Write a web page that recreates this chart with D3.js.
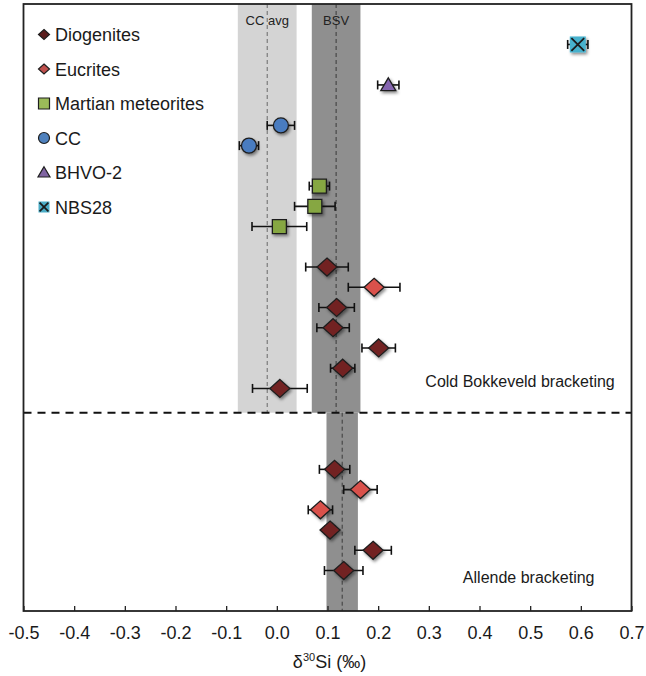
<!DOCTYPE html>
<html>
<head>
<meta charset="utf-8">
<script src="https://cdn.jsdelivr.net/npm/d3@7"></script>
<style>
  html, body { margin: 0; padding: 0; background: #fff; }
  svg { display: block; font-family: "Liberation Sans", Arial, Helvetica, sans-serif; }
</style>
</head>
<body>
<svg id="chart" width="646" height="676"></svg>
<script>
// δ30Si of achondrites and standards, bracketed against two reference materials
const xTickValues = [-0.5, -0.4, -0.3, -0.2, -0.1, 0.0, 0.1, 0.2, 0.3, 0.4, 0.5, 0.6, 0.7];
const legendTypes = ["Diogenites", "Eucrites", "Martian meteorites", "CC", "BHVO-2", "NBS28"];

// one entry per measurement, listed top to bottom (slot = row order)
const sampleSlot  = [2, 4, 6, 7, 9, 10, 11, 13, 14, 15, 16, 17, 18, 19, 23, 24, 25, 26, 27, 28];
const sampleType  = ["NBS28", "BHVO-2", "CC", "CC", "Martian meteorites", "Martian meteorites", "Martian meteorites",
                     "Diogenites", "Eucrites", "Diogenites", "Diogenites", "Diogenites", "Diogenites", "Diogenites",
                     "Diogenites", "Eucrites", "Eucrites", "Diogenites", "Diogenites", "Diogenites"];
const sampleValue = [0.594, 0.220, 0.008, -0.055, 0.084, 0.075, 0.005,
                     0.099, 0.192, 0.118, 0.111, 0.201, 0.130, 0.006,
                     0.114, 0.165, 0.086, 0.105, 0.190, 0.132];
const sampleError = [0.020, 0.021, 0.027, 0.019, 0.020, 0.040, 0.054,
                     0.042, 0.051, 0.035, 0.032, 0.033, 0.024, 0.054,
                     0.030, 0.033, 0.024, 0.010, 0.036, 0.038];

// reference averages with their uncertainty envelopes
const bandLabel = ["CC avg", "BSV", ""];
const bandMean  = [-0.019, 0.117, 0.129];
const bandHalf  = [0.058, 0.048, 0.031];
const bandFrom  = [0, 0, 20.2];
const bandTo    = [20.2, 20.2, 30];

const sectionBreak = 20.2;
const sectionLabel = ["Cold Bokkeveld bracketing", "Allende bracketing"];
const sectionLabelX = [0.667, 0.627];
const sectionLabelSlot = [18.95, 28.6];

const fillOf = {
  "Diogenites": "#722424",
  "Eucrites": "#d9514c",
  "Martian meteorites": "#86a743",
  "CC": "#4a7cc0",
  "BHVO-2": "#8565b0",
  "NBS28": "#46b1cd"
};
const legendFill = {
  "Diogenites": "#5a1c1c",
  "Eucrites": "#c0504d",
  "Martian meteorites": "#9bbb59",
  "CC": "#4f81bd",
  "BHVO-2": "#8064a2",
  "NBS28": "#4bacc6"
};
const shapeOf = {
  "Diogenites": "diamond", "Eucrites": "diamond", "Martian meteorites": "square",
  "CC": "circle", "BHVO-2": "triangle", "NBS28": "cross"
};

const svg = d3.select("#chart");
const plotLeft = 23.5, plotRight = 631.5, plotTop = 4, plotBottom = 611;

const x = d3.scaleLinear().domain([-0.5, 0.7]).range([plotLeft, plotRight]);
const y = d3.scaleLinear().domain([0, 30]).range([plotTop, plotBottom]);

const defs = svg.append("defs");
const shadow = defs.append("filter").attr("id", "shadow")
  .attr("x", "-50%").attr("y", "-50%").attr("width", "200%").attr("height", "200%");
shadow.append("feDropShadow").attr("dx", 1.5).attr("dy", 2).attr("stdDeviation", 1.4)
  .attr("flood-color", "#000").attr("flood-opacity", 0.45);

// marker outlines centred on the origin
function shapePath(shape, s) {
  switch (shape) {
    case "diamond": return `M0,${-s * 0.9}L${s},0L0,${s * 0.9}L${-s},0Z`;
    case "square":
    case "cross": return `M${-s},${-s}H${s}V${s}H${-s}Z`;
    case "triangle": return `M0,${-s * 0.95}L${s},${s * 0.75}L${-s},${s * 0.75}Z`;
    default: return null;
  }
}
function drawMarker(g, type, size, fill, strokeW) {
  const shape = shapeOf[type];
  if (shape === "circle") {
    g.append("circle").attr("r", size).attr("fill", fill)
      .attr("stroke", "#1e1e1e").attr("stroke-width", strokeW);
  } else if (shape === "cross") {
    // filled square without outline, crossed by a dark X
    g.append("path").attr("d", shapePath(shape, size)).attr("fill", fill);
    const c = size * 0.8;
    g.append("path").attr("d", `M${-c},${-c}L${c},${c}M${-c},${c}L${c},${-c}`)
      .attr("stroke", "#1a1a1a").attr("stroke-width", strokeW + 0.5);
  } else {
    g.append("path").attr("d", shapePath(shape, size)).attr("fill", fill)
      .attr("stroke", "#1e1e1e").attr("stroke-width", strokeW).attr("stroke-linejoin", "miter");
  }
}

// shaded reference bands
bandMean.forEach((m, i) => {
  svg.append("rect")
    .attr("x", x(m - bandHalf[i]))
    .attr("y", y(bandFrom[i]))
    .attr("width", x(m + bandHalf[i]) - x(m - bandHalf[i]))
    .attr("height", y(bandTo[i]) - y(bandFrom[i]))
    .attr("fill", i === 0 ? "#d4d4d4" : "#8f8f8f");
});
bandMean.forEach((m, i) => {
  svg.append("line")
    .attr("x1", x(m)).attr("x2", x(m))
    .attr("y1", y(bandFrom[i])).attr("y2", y(bandTo[i]))
    .attr("stroke", i === 0 ? "#6a6a6a" : "#3a3a3a")
    .attr("stroke-width", 1)
    .attr("stroke-dasharray", "4,3");
  if (bandLabel[i]) {
    svg.append("text")
      .attr("x", x(m)).attr("y", 25)
      .attr("text-anchor", "middle")
      .attr("font-size", 13).attr("fill", "#222")
      .text(bandLabel[i]);
  }
});

// separator between the two bracketing standards
svg.append("line")
  .attr("x1", plotLeft).attr("x2", plotRight)
  .attr("y1", y(sectionBreak)).attr("y2", y(sectionBreak))
  .attr("stroke", "#111").attr("stroke-width", 2)
  .attr("stroke-dasharray", "8,6");

sectionLabel.forEach((t, i) => {
  svg.append("text")
    .attr("x", x(sectionLabelX[i])).attr("y", y(sectionLabelSlot[i]))
    .attr("text-anchor", "end")
    .attr("font-size", 16).attr("fill", "#1a1a1a")
    .text(t);
});

// error bars then markers
const samples = sampleValue.map((v, i) => ({ v, e: sampleError[i], slot: sampleSlot[i], type: sampleType[i] }));

const errG = svg.append("g").attr("stroke", "#111").attr("stroke-width", 1.6).attr("fill", "none");
samples.forEach(d => {
  const yy = y(d.slot);
  errG.append("line").attr("x1", x(d.v - d.e)).attr("x2", x(d.v + d.e)).attr("y1", yy).attr("y2", yy);
  errG.append("line").attr("x1", x(d.v - d.e)).attr("x2", x(d.v - d.e)).attr("y1", yy - 4.5).attr("y2", yy + 4.5);
  errG.append("line").attr("x1", x(d.v + d.e)).attr("x2", x(d.v + d.e)).attr("y1", yy - 4.5).attr("y2", yy + 4.5);
});

const sizeOf = { diamond: 10, square: 7, circle: 7.5, triangle: 7.5, cross: 8 };
samples.forEach(d => {
  const g = svg.append("g")
    .attr("transform", `translate(${x(d.v)},${y(d.slot)})`)
    .attr("filter", "url(#shadow)");
  drawMarker(g, d.type, sizeOf[shapeOf[d.type]], fillOf[d.type], 1.3);
});

// legend
const legendSize = { diamond: 5.5, square: 5.5, circle: 5.5, triangle: 6, cross: 5.5 };
legendTypes.forEach((t, i) => {
  const cy = 34.5 + i * 34.5;
  const g = svg.append("g").attr("transform", `translate(44,${cy})`);
  drawMarker(g, t, legendSize[shapeOf[t]], legendFill[t], 1.2);
  svg.append("text")
    .attr("x", 55).attr("y", cy + 6.5)
    .attr("font-size", 18).attr("fill", "#1a1a1a")
    .text(t);
});

// x axis with inward ticks
const axis = svg.append("g")
  .attr("transform", `translate(0,${plotBottom})`)
  .call(d3.axisBottom(x).tickValues(xTickValues).tickFormat(d3.format(".1f"))
    .tickSizeInner(-5).tickSizeOuter(0).tickPadding(15));
axis.select(".domain").remove();
axis.selectAll(".tick line").attr("stroke", "#222").attr("stroke-width", 1.3);
axis.selectAll(".tick text")
  .attr("font-size", 18).attr("fill", "#1a1a1a")
  .attr("font-family", "\"Liberation Sans\", Arial, Helvetica, sans-serif")
  .text(d => d3.format(".1f")(d).replace("−", "-"));

// frame
svg.append("rect")
  .attr("x", plotLeft).attr("y", plotTop)
  .attr("width", plotRight - plotLeft).attr("height", plotBottom - plotTop)
  .attr("fill", "none").attr("stroke", "#222").attr("stroke-width", 1.8);

// axis title
const title = svg.append("text")
  .attr("x", (plotLeft + plotRight) / 2 + 2).attr("y", 668)
  .attr("text-anchor", "middle")
  .attr("font-size", 18).attr("fill", "#1a1a1a");
title.append("tspan").text("δ");
title.append("tspan").attr("font-size", 11).attr("dy", -7).text("30");
title.append("tspan").attr("dy", 7).text("Si (‰)");
</script>
</body>
</html>
